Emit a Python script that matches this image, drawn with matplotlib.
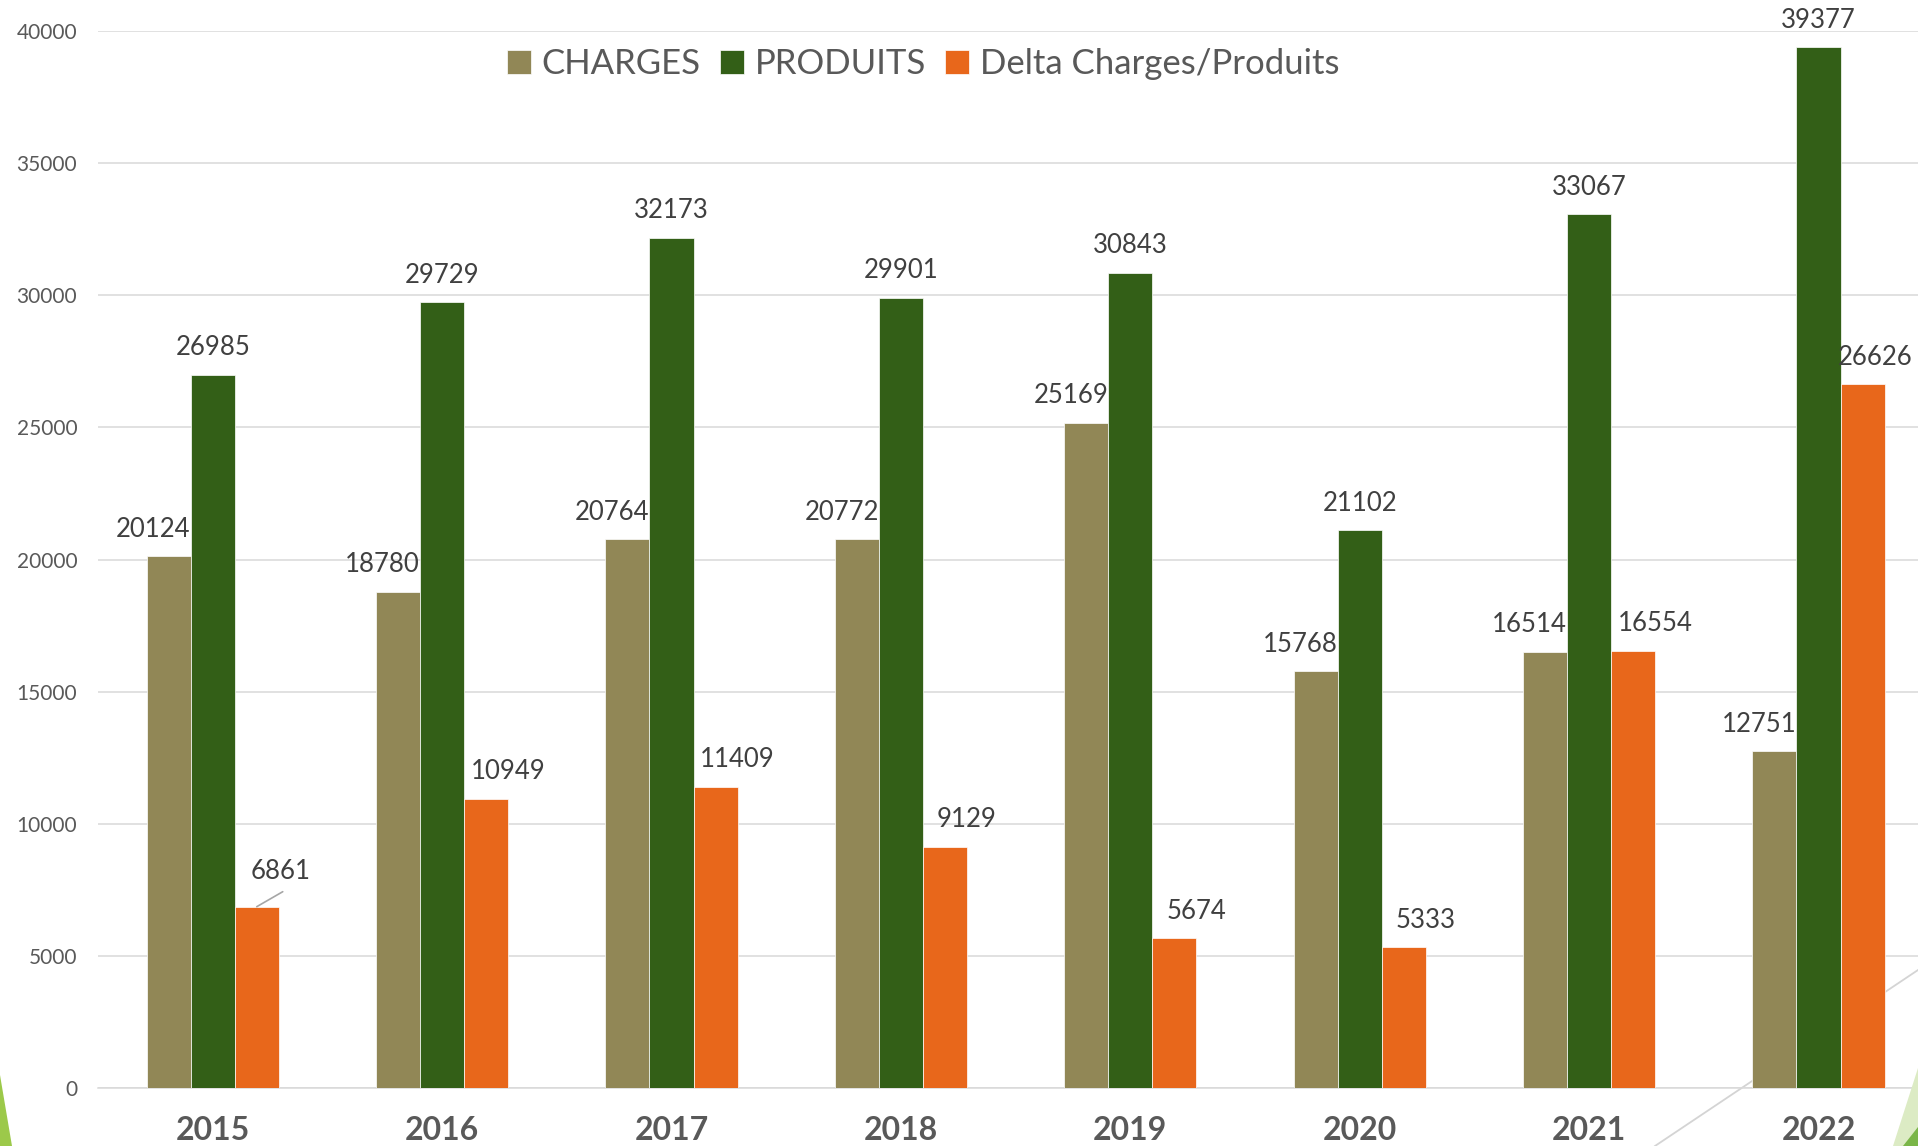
import matplotlib
matplotlib.use("Agg")
import matplotlib.pyplot as plt
import numpy as np
from matplotlib.patches import Polygon
from matplotlib.lines import Line2D

years = ["2015", "2016", "2017", "2018", "2019", "2020", "2021", "2022"]
charges = [20124, 18780, 20764, 20772, 25169, 15768, 16514, 12751]
produits = [26985, 29729, 32173, 29901, 30843, 21102, 33067, 39377]
delta = [6861, 10949, 11409, 9129, 5674, 5333, 16554, 26626]
series_names = ["CHARGES", "PRODUITS", "Delta Charges/Produits"]
colors = ["#918756", "#335F17", "#E8671B"]

W, H = 1918, 1146
fig = plt.figure(figsize=(W / 100, H / 100), dpi=100)
plt.rcParams['font.family'] = ['Lato', 'DejaVu Sans']

def fp(x, y):
    return (x / W, 1 - y / H)

# decorative slide background elements
tr = fig.transFigure
fig.add_artist(Line2D([1655 / W, 1918 / W], [1 - 1146 / H, 1 - 970 / H], transform=tr,
                      color="#d4d4d4", lw=1.3, zorder=-2))
fig.add_artist(Polygon([fp(0, 1075), fp(12, 1146), fp(0, 1146)], closed=True,
                       transform=tr, facecolor="#9cc94a", edgecolor="none", zorder=-1))
fig.add_artist(Polygon([fp(1918, 1068), fp(1893, 1146), fp(1918, 1146)], closed=True,
                       transform=tr, facecolor="#dcebc4", edgecolor="none", zorder=5))
fig.add_artist(Polygon([fp(1918, 1127), fp(1903, 1146), fp(1918, 1146)], closed=True,
                       transform=tr, facecolor="#7ab648", edgecolor="none", zorder=6))

left, right = 98, 1918
bottom, top = 1088, 31
ax = fig.add_axes([left / W, 1 - bottom / H, (right - left) / W, (bottom - top) / H])
ax.patch.set_visible(False)

group = 229.4
x = np.arange(len(years))
w = 0.192
ax.set_xlim(-0.5, -0.5 + (right - left) / group)
ax.set_ylim(0, 40000)

vals = [charges, produits, delta]
offs = [-w, 0, w]
for v, o, c, n in zip(vals, offs, colors, series_names):
    ax.bar(x + o, v, width=w, color=c, edgecolor="white", linewidth=0.5, label=n, zorder=3)

lab_col = "#404040"
fs_lab = 18.5
n = len(years)
for i in range(n):
    ax.annotate(str(charges[i]), (x[i] - w + w / 2, charges[i]), xytext=(0, 27),
                textcoords="offset pixels", ha="right", va="center", fontsize=fs_lab,
                color=lab_col, zorder=6, annotation_clip=False)
    ax.annotate(str(produits[i]), (x[i], produits[i]), xytext=(0, 27),
                textcoords="offset pixels", ha="center", va="center", fontsize=fs_lab,
                color=lab_col, zorder=6, annotation_clip=False)
    if i == 0:
        ax.annotate(str(delta[i]), (x[i] + w, delta[i]), xytext=(24, 35),
                    textcoords="offset pixels", ha="center", va="center", fontsize=fs_lab,
                    color=lab_col, zorder=6, annotation_clip=False)
        ax.annotate("", (x[i] + w, delta[i]), xytext=(26, 15), textcoords="offset pixels",
                    arrowprops=dict(arrowstyle="-", color="#a6a6a6", lw=1.2,
                                    shrinkA=0, shrinkB=0), zorder=6)
    else:
        dx = 13 if i == n - 1 else 22
        ax.annotate(str(delta[i]), (x[i] + w, delta[i]), xytext=(dx, 27),
                    textcoords="offset pixels", ha="center", va="center", fontsize=fs_lab,
                    color=lab_col, zorder=6, annotation_clip=False)

ax.set_yticks(np.arange(0, 40001, 5000))
ax.yaxis.grid(True, color="#d9d9d9", lw=1.1, zorder=0)
ax.set_axisbelow(True)
for s in ["top", "right", "left"]:
    ax.spines[s].set_visible(False)
ax.spines["bottom"].set_color("#d9d9d9")
ax.spines["bottom"].set_linewidth(1.1)
ax.tick_params(axis="y", length=0, pad=15, labelsize=15, labelcolor="#595959")
ax.set_xticks(x)
ax.set_xticklabels(years, fontweight="bold")
ax.tick_params(axis="x", length=0, pad=20, labelsize=23, labelcolor="#595959")

leg = ax.legend(loc="upper left", bbox_to_anchor=(507 / W, 1 - 48 / H),
                bbox_transform=fig.transFigure, ncol=3, frameon=False, fontsize=25,
                handlelength=0.7, handleheight=0.7, handletextpad=0.3,
                columnspacing=0.55, borderaxespad=0, borderpad=0)
for t in leg.get_texts():
    t.set_color("#595959")

fig.savefig("out.png", dpi=100)
